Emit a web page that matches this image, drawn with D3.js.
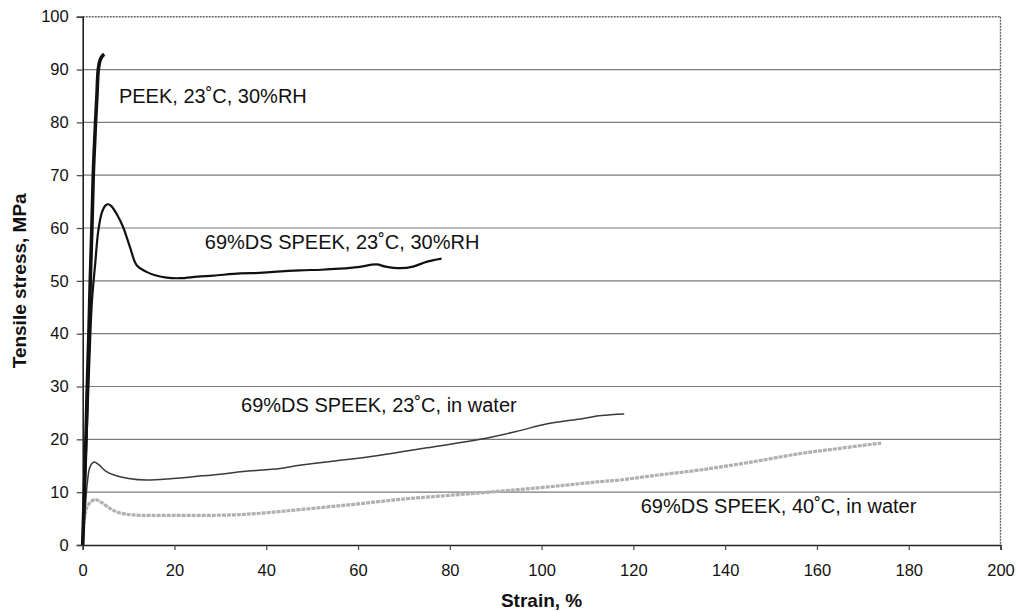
<!DOCTYPE html>
<html><head><meta charset="utf-8">
<script src="https://cdn.jsdelivr.net/npm/d3@7"></script>
<style>
html,body{margin:0;padding:0;background:#fff;}
text{font-family:"Liberation Sans",Arial,sans-serif;}
</style></head>
<body><svg id="c" width="1016" height="611"></svg>
<script>
// ---- data ----
const xTicks = [0,20,40,60,80,100,120,140,160,180,200];
const yTicks = [0,10,20,30,40,50,60,70,80,90,100];
const peek = [[0,0],[0.35,10],[0.7,20],[1.0,30],[1.35,40],[1.65,50],[2.0,60],[2.3,70],[2.8,80],[3.1,85],[3.4,90],[3.8,91.8],[4.3,92.6],[4.7,92.9]];
const speekRH = [[0,0],[0.5,12],[1,24],[1.5,36],[2,46],[2.7,53],[3.4,59.5],[4.2,63],[5,64.3],[5.6,64.5],[6.3,64.1],[7.5,62.5],[8.8,60.2],[10.3,56.4],[11.8,52.9],[13.9,51.7],[16,51],[18.3,50.6],[21.2,50.5],[25,50.8],[28.5,51.0],[34.3,51.4],[38.6,51.5],[41.5,51.7],[47.3,52],[52,52.1],[56,52.3],[60,52.6],[64,53.1],[66,52.7],[69.1,52.4],[72,52.7],[74.9,53.6],[78.2,54.2]];
const speekW23 = [[0,0],[0.5,6],[1,11.7],[1.6,14.8],[2.5,15.7],[3.5,15.2],[5,14],[7,13.2],[10,12.6],[13.9,12.3],[19.7,12.6],[25,13],[30,13.4],[35,13.9],[43,14.5],[47.3,15.1],[55,15.9],[64.8,17],[75,18.4],[86.6,20],[95,21.6],[101,22.9],[108,23.8],[113,24.5],[118,24.8]];
const speekW40 = [[0,0],[0.5,5.7],[1.2,7.6],[2.7,8.6],[4,8.1],[6,6.9],[8,6.1],[11,5.7],[20,5.6],[32.8,5.7],[40,6.1],[47.3,6.7],[58,7.6],[69.8,8.7],[80,9.4],[93.8,10.4],[105,11.3],[112.7,12],[117,12.3],[125,13.2],[134.5,14.2],[145,15.6],[156.3,17.3],[165,18.3],[174,19.3]];
const labels = [
  {text:"PEEK, 23˚C, 30%RH", x:7.9, y:83.7},
  {text:"69%DS SPEEK, 23˚C, 30%RH", x:26.6, y:56.1},
  {text:"69%DS SPEEK, 23˚C, in water", x:34.5, y:25.1},
  {text:"69%DS SPEEK, 40˚C, in water", x:121.6, y:6.0}
];

// ---- chart ----
const svg = d3.select("#c");
const L=82.7, R=1000.5, T=16.7, B=545;
const x = d3.scaleLinear().domain([0,200]).range([L,R]);
const y = d3.scaleLinear().domain([0,100]).range([B,T]);

// gridlines
svg.append("g").selectAll("line").data(yTicks.filter(d=>d>0&&d<100)).join("line")
  .attr("x1",L).attr("x2",R).attr("y1",d=>y(d)).attr("y2",d=>y(d))
  .attr("stroke","#7a7a7a").attr("stroke-width",1.2);
// top & right border dotted
svg.append("line").attr("x1",L).attr("x2",R).attr("y1",y(100)).attr("y2",y(100))
  .attr("stroke","#666").attr("stroke-width",1.4).attr("stroke-dasharray","2,1");
svg.append("line").attr("x1",R).attr("x2",R).attr("y1",T).attr("y2",B)
  .attr("stroke","#666").attr("stroke-width",1.4).attr("stroke-dasharray","2,1");

// axes
const xAxis = d3.axisBottom(x).tickValues(xTicks).tickSize(5).tickPadding(14);
const yAxis = d3.axisLeft(y).tickValues(yTicks).tickSize(6).tickPadding(8);
const gx = svg.append("g").attr("transform",`translate(0,${B})`).call(xAxis);
const gy = svg.append("g").attr("transform",`translate(${L},0)`).call(yAxis);
[gx,gy].forEach(g=>{
  g.select(".domain").attr("stroke","#222").attr("stroke-width",1.6);
  g.selectAll(".tick line").attr("stroke","#444").attr("stroke-width",1.2);
  g.selectAll(".tick text").attr("fill","#111").style("font-size","16.5px").style("font-family","'Liberation Sans',Arial,sans-serif");
});

// lines
const lineX = d3.line().x(d=>x(d[0])).y(d=>y(d[1])).curve(d3.curveCatmullRom.alpha(0.5));
svg.append("path").datum(speekW40).attr("d",lineX).attr("fill","none")
  .attr("stroke","#b0b0b0").attr("stroke-width",3.2).attr("stroke-dasharray","4,1");
svg.append("path").datum(speekW23).attr("d",lineX).attr("fill","none")
  .attr("stroke","#3a3a3a").attr("stroke-width",1.5);
svg.append("path").datum(speekRH).attr("d",lineX).attr("fill","none")
  .attr("stroke","#111").attr("stroke-width",2.2);
svg.append("path").datum(peek).attr("d",lineX).attr("fill","none")
  .attr("stroke","#111").attr("stroke-width",3.6);

// annotations
svg.append("g").selectAll("text").data(labels).join("text")
  .attr("x",d=>x(d.x)).attr("y",d=>y(d.y))
  .attr("fill","#111").style("font-size","20px").text(d=>d.text);

// axis titles
svg.append("text").attr("x",(L+R)/2).attr("y",607).attr("text-anchor","middle")
  .style("font-size","19px").style("font-weight","bold").attr("fill","#111").text("Strain, %");
svg.append("text").attr("transform",`translate(26,${(T+B)/2}) rotate(-90)`).attr("text-anchor","middle")
  .style("font-size","19px").style("font-weight","bold").attr("fill","#111").text("Tensile stress, MPa");
</script></body></html>
